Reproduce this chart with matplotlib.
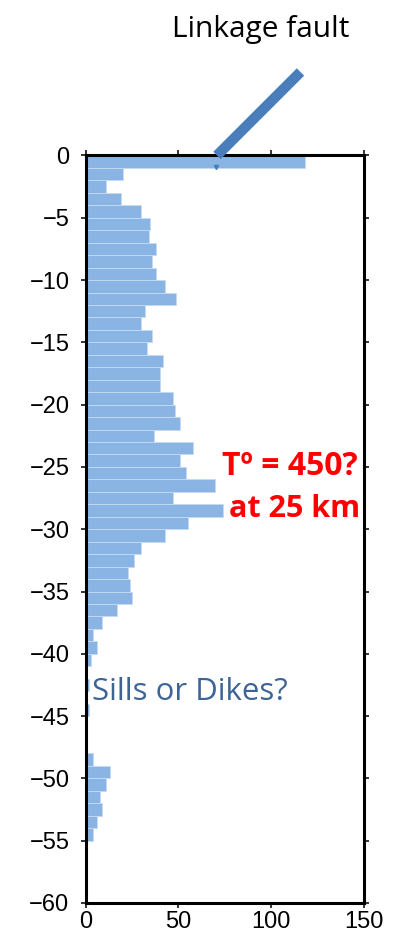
import numpy as np
import matplotlib
matplotlib.use("Agg")
import matplotlib.pyplot as plt
from matplotlib.lines import Line2D

# earthquake counts per 1 km depth bin, from 0 km downward
depth_top = np.arange(0, -60, -1)
counts = [118, 20, 11, 19, 30, 35, 34, 38, 36, 38,
          43, 49, 32, 30, 36, 33, 42, 40, 40, 47,
          48, 51, 37, 58, 51, 54, 70, 47, 74, 55,
          43, 30, 26, 23, 24, 25, 17, 9, 4, 6,
          3, 0, 2, 1, 2, 0, 0, 0, 4, 13,
          11, 8, 9, 6, 4, 1, 0, 0, 1, 1]
xticks = [0, 50, 100, 150]
yticks = [0, -5, -10, -15, -20, -25, -30, -35, -40, -45, -50, -55, -60]

fault_x = [70.8, 115.8]
fault_y = [0, 6.7]

plt.rcParams['font.family'] = ['Liberation Sans', 'DejaVu Sans']
plt.rcParams['axes.unicode_minus'] = True

fig = plt.figure(figsize=(3.95, 9.40), dpi=100)
ax = fig.add_axes([0.2165, 0.0394, 0.705, 0.7952])

ax.barh(depth_top, counts, height=-1, align='edge', color='#8AB4E3',
        edgecolor='#c6dbf3', linewidth=0.6, zorder=1)

ax.set_xlim(0, 150)
ax.set_ylim(-60, 0)
ax.set_xticks(xticks)
ax.set_yticks(yticks)
ax.tick_params(direction='out', length=3.6, width=1.1, labelsize=17,
               top=True, right=True)
ax.tick_params(axis='y', pad=8)
ax.tick_params(axis='x', pad=2)
for s in ax.spines.values():
    s.set_linewidth(2.2)
    s.set_zorder(3)

# fault line drawn above the axes
fault = Line2D(fault_x, fault_y, color='#4A7EBB', linewidth=7.5,
               solid_capstyle='butt', clip_on=False, zorder=4)
ax.add_line(fault)
ax.plot([70.5], [-0.95], marker='v', markersize=3, color='#4A7EBB', zorder=4)

fig.text(0.66, 0.969, 'Linkage fault', ha='center', va='center',
         fontsize=21.5, family=['Open Sans', 'DejaVu Sans'])

ax.text(146.5, -25, 'Tº = 450?', ha='right', va='center', color='red',
        fontsize=23, fontweight='bold', family=['Open Sans', 'DejaVu Sans'])
ax.text(148, -28.4, 'at 25 km', ha='right', va='center', color='red',
        fontsize=22, fontweight='bold', family=['Open Sans', 'DejaVu Sans'])
ax.text(3.5, -43.1, 'Sills or Dikes?', ha='left', va='center', color='#3C6496',
        fontsize=22.4, family=['Open Sans', 'DejaVu Sans'])

fig.savefig('out.png', dpi=100)
